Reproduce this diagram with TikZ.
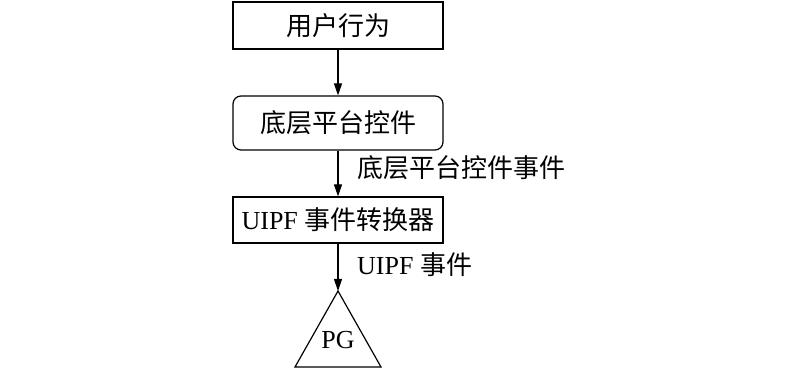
\documentclass[tikz,border=0pt]{standalone}
\usepackage{fontspec}
\setmainfont{Liberation Serif}
\newfontfamily\cjk{Noto Sans CJK SC}
\usetikzlibrary{arrows.meta}
\tikzset{
  x=1pt,y=1pt,
  every node/.style={font=\fontsize{26}{29}\selectfont},
  boxnode/.style={draw,line width=1.2pt,minimum width=210pt,inner sep=0pt},
  flowarrow/.style={line width=1.2pt,-{Triangle[length=12pt,width=8pt]}},
  lbl/.style={anchor=west,inner sep=0pt}
}
\begin{document}
\begin{tikzpicture}
\useasboundingbox (0,0) rectangle (800,369);
\node[boxnode,minimum height=47pt] (b1) at (338,343.5) {\cjk 用户行为};
\node[boxnode,minimum height=54pt,rounded corners=8pt] (b2) at (338,246) {\cjk 底层平台控件};
\node[boxnode,minimum height=46pt] (b3) at (338,149) {UIPF {\cjk 事件转换器}};
\coordinate (apex) at (338,78);
\coordinate (bl) at (295,2);
\coordinate (br) at (381,2);
\draw[line width=1.2pt,line join=miter] (apex) -- (bl) -- (br) -- cycle;
\node (pg) at (338,29) {PG};
\draw[flowarrow] (b1.south) -- (b2.north);
\draw[flowarrow] (b2.south) -- (b3.north);
\draw[flowarrow] (b3.south) -- (apex);
\node[lbl] (l1) at (357,201) {\cjk 底层平台控件事件};
\node[lbl] (l2) at (357,104) {UIPF {\cjk 事件}};
\end{tikzpicture}
\end{document}
